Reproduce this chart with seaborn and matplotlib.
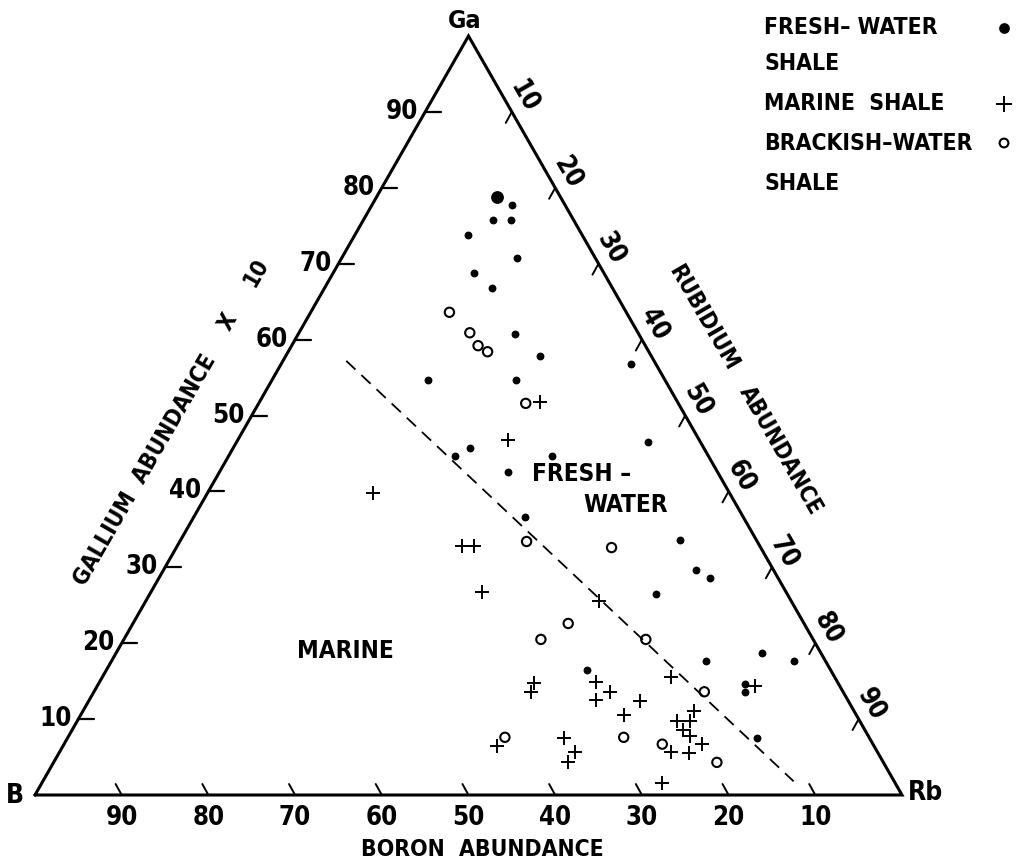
import os
import numpy as np
import pandas as pd
import matplotlib
matplotlib.use("Agg")
import matplotlib.pyplot as plt
import matplotlib.font_manager as fm
import seaborn as sns

# Ternary compositions (percent) read as gallium / rubidium; boron is the remainder
fresh_ga = [78.8, 77.8, 75.7, 75.8, 73.8, 70.8, 68.8, 66.8, 60.8, 57.8,
            56.8, 54.7, 54.7, 46.5, 45.7, 44.7, 44.6, 42.6, 36.6, 33.6,
            29.7, 28.6, 26.5, 16.5, 17.6, 18.7, 17.6, 14.6, 13.6, 7.5]
fresh_rb = [13.9, 16.1, 15.0, 17.0, 13.0, 20.2, 16.2, 19.3, 25.0, 29.3,
            40.3, 18.0, 28.1, 47.5, 27.3, 26.1, 37.3, 33.3, 38.2, 57.6,
            61.4, 63.6, 58.4, 55.4, 68.6, 74.5, 78.7, 74.6, 75.1, 79.5]
fresh_big = [True] + [False] * 29

marine_ga = [51.8, 46.8, 39.8, 32.8, 32.8, 26.7, 25.6, 15.6, 14.3, 14.8,
             13.6, 14.9, 13.6, 12.5, 12.4, 10.6, 11.1, 9.7, 9.8, 8.5,
             7.8, 6.7, 5.5, 5.6, 6.4, 7.5, 5.6, 4.3, 1.6]
marine_rb = [32.4, 31.1, 19.1, 32.8, 34.2, 38.2, 52.2, 65.6, 75.9, 50.1,
             50.4, 57.2, 59.5, 58.4, 63.6, 62.6, 70.5, 69.2, 70.7, 70.5,
             71.7, 73.6, 72.7, 70.5, 50.1, 57.3, 59.5, 59.3, 71.5]

brackish_ga = [63.6, 60.9, 59.2, 58.4, 51.6, 33.4, 32.6, 22.6, 20.5, 20.5,
               13.6, 7.6, 7.6, 6.7, 4.3]
brackish_rb = [16.0, 19.7, 21.5, 23.0, 30.8, 40.0, 50.2, 50.2, 48.1, 60.2,
               70.4, 64.1, 50.4, 69.0, 76.5]

# Boundary between marine and fresh-water fields (gallium, rubidium)
boundary_ga = [57.2, 1.8]
boundary_rb = [7.3, 86.6]

tick_values = [10, 20, 30, 40, 50, 60, 70, 80, 90]

SQ3 = np.sqrt(3) / 2


def tern(ga, rb):
    ga = np.asarray(ga, float)
    rb = np.asarray(rb, float)
    return rb + ga / 2, ga * SQ3


def pick_condensed_bold():
    """Return the path of a narrow bold sans face if one is installed."""
    prefs = ["liberation sans narrow", "dejavu sans condensed", "dejavusanscondensed",
             "roboto condensed", "robotocondensed", "open sans condensed", "opensans-cond",
             "noto sans condensed", "notosans-condensed"]
    found = []
    for f in fm.fontManager.ttflist:
        key = (f.name + " " + os.path.basename(f.fname)).lower()
        if "italic" in key or "oblique" in key:
            continue
        narrow = ("narrow" in key or "cond" in key
                  or f.stretch in ("condensed", "semi-condensed", "extra-condensed", 400))
        bold = (f.weight in ("bold", 700, "heavy", 800) or "bold" in key)
        if narrow and bold:
            rank = len(prefs)
            for i, p in enumerate(prefs):
                if p in key:
                    rank = i
                    break
            found.append((rank, f.fname))
    found.sort()
    return found[0][1] if found else None


sns.set_theme(style="white")
plt.rcParams["font.family"] = ["DejaVu Sans"]
plt.rcParams["font.weight"] = "bold"
plt.rcParams["text.color"] = "black"

font_path = pick_condensed_bold()
SCALE = 1.0 if font_path else 0.8


def fprop(size):
    if font_path:
        return fm.FontProperties(fname=font_path, size=size * SCALE)
    return fm.FontProperties(family="DejaVu Sans", weight="bold", size=size * SCALE)


W, H = 1017, 866
fig = plt.figure(figsize=(W / 100, H / 100), dpi=100)
ax = fig.add_axes([0, 0, 1, 1])
ax.set_axis_off()

# screen scale of the triangle
OX, OY = 35.0, 795.0
SX, SY = 8.67, 8.764
XL = (-OX / SX, (W - OX) / SX)
YL = ((OY - H) / SY, OY / SY)
ax.set_xlim(*XL)
ax.set_ylim(*YL)


def px(x, y):
    return (x - OX) / SX, (OY - y) / SY


ink = "black"
fs_tick = 18.5
fs_lab = 16.5

# triangle outline
vx, vy = tern([0, 0, 100, 0], [0, 100, 0, 0])
ax.plot(vx, vy, color=ink, lw=2.2, solid_joinstyle="miter", zorder=3)

# gallium ticks (left side, horizontal)
for t in tick_values:
    x0, y0 = tern(t, 0)
    ax.plot([x0, x0 + 1.8], [y0, y0], color=ink, lw=1.6)
    ax.text(x0 - 0.8, y0, str(t), ha="right", va="center", fontproperties=fprop(fs_tick))

# boron ticks (bottom side)
for t in tick_values:
    x0, y0 = tern(0, 100 - t)
    ax.plot([x0, x0 - 0.7], [y0, y0 + 1.25], color=ink, lw=1.4)
    ax.text(x0, y0 - 2.6, str(t), ha="center", va="center", fontproperties=fprop(fs_tick))

# rubidium ticks (right side)
for t in tick_values:
    x0, y0 = tern(100 - t, t)
    ax.plot([x0, x0 - 0.7], [y0, y0 - 1.25], color=ink, lw=1.4)
    ax.text(x0 + 1.4, y0 + 1.7, str(t), ha="center", va="center",
            rotation=-60, fontproperties=fprop(fs_tick))

# vertex labels
ax.text(*px(465, 21), "Ga", ha="center", va="center", fontproperties=fprop(18))
ax.text(*px(15, 796), "B", ha="center", va="center", fontproperties=fprop(19))
ax.text(*px(925, 793), "Rb", ha="center", va="center", fontproperties=fprop(19))

# axis titles
ax.text(*px(145, 470), "GALLIUM  ABUNDANCE", ha="center", va="center",
        rotation=60, fontproperties=fprop(fs_lab))
ax.text(*px(228, 322), "X", ha="center", va="center", rotation=60,
        fontproperties=fprop(fs_lab))
ax.text(*px(256, 272), "10", ha="center", va="center", rotation=60,
        fontproperties=fprop(fs_lab))
ax.text(*px(703, 318), "RUBIDIUM", ha="center", va="center", rotation=-60,
        fontproperties=fprop(fs_lab))
ax.text(*px(781, 450), "ABUNDANCE", ha="center", va="center", rotation=-60,
        fontproperties=fprop(fs_lab))
ax.text(*px(482, 850), "BORON  ABUNDANCE", ha="center", va="center",
        fontproperties=fprop(fs_lab))

# field labels
ax.text(*px(345, 651), "MARINE", ha="center", va="center", fontproperties=fprop(17.5))
ax.text(*px(582, 474), "FRESH –", ha="center", va="center", fontproperties=fprop(17.5))
ax.text(*px(626, 505), "WATER", ha="center", va="center", fontproperties=fprop(17.5))

# dashed boundary line
bx, by = tern(boundary_ga, boundary_rb)
ax.plot(bx, by, color=ink, lw=1.3, dashes=(7, 4.5))

# data points
fx, fy = tern(fresh_ga, fresh_rb)
mx, my = tern(marine_ga, marine_rb)
kx, ky = tern(brackish_ga, brackish_rb)
fresh = pd.DataFrame({"x": fx, "y": fy, "big": fresh_big})
marine = pd.DataFrame({"x": mx, "y": my})
brackish = pd.DataFrame({"x": kx, "y": ky})

dot_style = dict(marker="o", color=ink, edgecolor=ink, linewidth=0)
plus_style = dict(marker="+", color=ink, linewidth=1.4)
ring_style = dict(marker="o", facecolor="none", edgecolor=ink, linewidth=1.5)

sns.scatterplot(data=fresh[~fresh.big], x="x", y="y", s=32, ax=ax, zorder=4, **dot_style)
sns.scatterplot(data=fresh[fresh.big], x="x", y="y", s=85, ax=ax, zorder=4, **dot_style)
sns.scatterplot(data=marine, x="x", y="y", s=110, ax=ax, zorder=4, **plus_style)
sns.scatterplot(data=brackish, x="x", y="y", s=45, ax=ax, zorder=4, **ring_style)
ax.set_xlim(*XL)
ax.set_ylim(*YL)
ax.set_axis_off()

# key
lx = 764 / W
rows = [(28, "FRESH– WATER", dot_style, 60), (64, "SHALE", None, 0),
        (104, "MARINE  SHALE", plus_style, 140), (143, "BRACKISH–WATER", ring_style, 40),
        (183, "SHALE", None, 0)]
for y, label, style, s in rows:
    yy = 1 - y / H
    ax.text(lx, yy, label, transform=ax.transAxes, ha="left", va="center",
            fontproperties=fprop(16.5))
    if style is not None:
        ax.scatter([1004 / W], [yy], s=s, transform=ax.transAxes, clip_on=False, **style)

fig.savefig("out.png", dpi=100, facecolor="white")
